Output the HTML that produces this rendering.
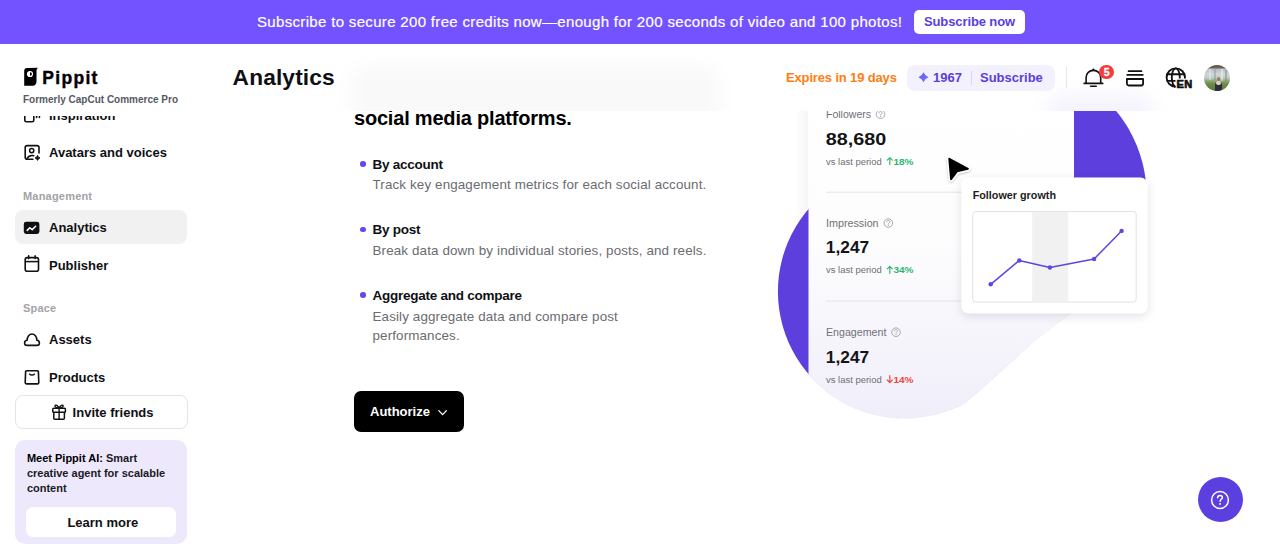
<!DOCTYPE html>
<html lang="en">
<head>
<meta charset="utf-8">
<title>Pippit - Analytics</title>
<style>
*{box-sizing:border-box;margin:0;padding:0}
html,body{width:1280px;height:557px;overflow:hidden;background:#fff}
body{position:relative;font-family:"Liberation Sans",Arial,Helvetica,sans-serif;color:#0f1014;-webkit-font-smoothing:antialiased}
.abs{position:absolute}
.t{position:absolute;white-space:nowrap;line-height:1}
/* banner */
#banner{position:absolute;left:0;top:0;width:1280px;height:44px;background:#7352ff}
#banner .msg{position:absolute;left:257px;top:14.4px;font-size:15px;color:#fff;letter-spacing:0.33px;-webkit-text-stroke:0.2px #fff;white-space:nowrap;line-height:16px}
#banner .btn{position:absolute;left:914px;top:9.5px;width:111px;height:24.5px;background:#fff;border-radius:5px;color:#5b3de0;font-weight:bold;font-size:13px;line-height:24.5px;text-align:center;letter-spacing:-0.1px}
/* sidebar */
.nav{position:absolute;left:49px;font-size:13px;font-weight:bold;color:#0f1014;white-space:nowrap;line-height:13px}
.sec{position:absolute;left:23px;font-size:11px;font-weight:bold;color:#a3a3a8;letter-spacing:0.2px;white-space:nowrap;line-height:11px}
.ico{position:absolute}
/* main */
.desc{position:absolute;left:372.5px;font-size:13.4px;color:#6b6b70;letter-spacing:0.13px;white-space:nowrap;line-height:20px}
.btitle{position:absolute;left:372.5px;font-size:13.5px;letter-spacing:-0.25px;font-weight:bold;color:#0f1014;white-space:nowrap;line-height:13px}
.dot{position:absolute;left:360px;width:5.5px;height:5.5px;border-radius:50%;background:#6548f0}
</style>
</head>
<body>

<!-- ===== Banner ===== -->
<div id="banner">
  <div class="msg">Subscribe to secure 200 free credits now—enough for 200 seconds of video and 100 photos!</div>
  <div class="btn">Subscribe now</div>
</div>

<!-- ===== Main content (scrolled) ===== -->
<div class="t" style="left:354px;top:108.3px;font-size:20px;font-weight:bold;color:#000;letter-spacing:-0.2px">social media platforms.</div>

<div class="dot" style="top:161px"></div>
<div class="btitle" style="top:157.6px">By account</div>
<div class="desc" style="top:175.2px">Track key engagement metrics for each social account.</div>

<div class="dot" style="top:226.5px"></div>
<div class="btitle" style="top:223.1px">By post</div>
<div class="desc" style="top:241.2px">Break data down by individual stories, posts, and reels.</div>

<div class="dot" style="top:292px"></div>
<div class="btitle" style="top:288.6px">Aggregate and compare</div>
<div class="desc" style="top:306.7px">Easily aggregate data and compare post</div>
<div class="desc" style="top:326.2px">performances.</div>

<div class="abs" style="left:353.5px;top:391px;width:110.5px;height:41px;background:#000;border-radius:7px"></div>
<div class="t" style="left:370px;top:405px;font-size:13px;font-weight:bold;color:#fff">Authorize</div>
<svg class="abs" style="left:436px;top:408px" width="12" height="10" viewBox="0 0 12 10"><path d="M2.8 2.6 L6.6 6.6 L10.4 2.6" fill="none" stroke="#fff" stroke-width="1.3" stroke-linecap="round" stroke-linejoin="round"/></svg>

<!-- ILLUSTRATION -->
<svg class="abs" style="left:760px;top:100px;overflow:visible" width="400" height="330" viewBox="760 100 400 330">
  <defs>
    <path id="blobp" d="M1076.7 78.9 C1088.8 82.7 1087.4 85.0 1092.3 88.6 C1097.2 92.2 1102.0 96.2 1106.3 100.4 C1110.7 104.6 1114.9 109.2 1118.6 114.0 C1122.4 118.8 1125.8 124.0 1128.9 129.2 C1131.9 134.5 1134.6 140.1 1136.9 145.7 C1139.2 151.4 1141.1 157.3 1142.6 163.2 C1144.1 169.1 1145.1 175.2 1145.8 181.3 C1146.4 187.3 1146.6 193.5 1146.4 199.6 C1146.2 205.7 1145.6 211.8 1144.5 217.8 C1143.4 223.8 1141.9 229.8 1140.1 235.6 C1138.2 241.4 1135.9 247.2 1133.2 252.6 C1130.5 258.1 1127.4 263.5 1124.0 268.5 C1120.6 273.6 1116.8 278.5 1112.7 283.0 C1108.6 287.5 1104.2 291.8 1099.5 295.7 C1094.9 299.7 1089.9 303.3 1084.7 306.5 C1079.5 309.8 1076.7 309.5 1068.5 315.1 C1060.3 320.8 1045.1 332.3 1035.4 340.3 C1025.7 348.3 1018.4 355.5 1010.0 363.0 C1001.6 370.5 992.7 378.8 985.0 385.5 C977.3 392.2 970.0 399.1 963.8 403.2 C957.6 407.3 953.4 408.3 948.0 410.2 C942.6 412.2 937.0 413.9 931.4 415.1 C925.8 416.3 920.1 417.2 914.3 417.6 C908.6 418.1 902.8 418.1 897.0 417.8 C891.3 417.5 885.5 416.7 879.9 415.6 C874.3 414.5 868.6 413.0 863.2 411.1 C857.8 409.2 852.4 407.0 847.3 404.4 C842.2 401.8 837.2 398.8 832.4 395.5 C827.7 392.3 823.2 388.6 818.9 384.8 C814.7 380.9 810.7 376.7 807.0 372.2 C803.4 367.8 800.0 363.1 796.9 358.2 C793.9 353.3 791.2 348.2 788.8 343.0 C786.5 337.7 784.5 332.2 782.9 326.7 C781.3 321.2 780.1 315.5 779.2 309.8 C778.4 304.1 778.0 298.4 777.9 292.6 C777.9 286.9 778.2 281.1 778.9 275.4 C779.7 269.7 780.8 264.0 782.3 258.4 C783.8 252.9 785.7 247.4 788.0 242.1 C790.2 236.8 792.8 231.6 795.8 226.7 C798.7 221.7 802.0 217.0 805.6 212.5 C809.2 208.0 813.2 203.7 817.3 199.7 C821.5 195.8 826.0 192.1 830.6 188.7 C835.3 185.4 840.3 182.3 845.3 179.6 C850.4 177.0 852.0 179.2 861.1 172.6 C870.2 166.0 883.5 153.8 900.0 140.0 C916.5 126.2 940.0 102.3 960.0 90.0 C980.0 77.7 1000.5 67.9 1020.0 66.0 C1039.5 64.1 1064.7 75.1 1076.7 78.9Z"/>
    <mask id="cardmask" maskUnits="userSpaceOnUse" x="700" y="0" width="500" height="500">
      <use href="#blobp" fill="#fff" stroke="#fff" stroke-width="1.2"/>
      <rect x="800" y="90" width="280" height="210" fill="#fff"/>
    </mask>
    <linearGradient id="cardg" x1="0" y1="0" x2="0" y2="1">
      <stop offset="0" stop-color="#ffffff"/>
      <stop offset="0.45" stop-color="#fdfdfe"/>
      <stop offset="1" stop-color="#efedf9"/>
    </linearGradient>
    <filter id="pshadow" x="-20%" y="-20%" width="140%" height="150%">
      <feDropShadow dx="0" dy="3" stdDeviation="5" flood-color="#1a1a40" flood-opacity="0.12"/>
    </filter>
    <filter id="cshadow" x="-30%" y="-30%" width="160%" height="160%">
      <feDropShadow dx="0" dy="1" stdDeviation="1.2" flood-color="#000" flood-opacity="0.25"/>
    </filter>
  </defs>
  <linearGradient id="lsh" x1="0" y1="0" x2="1" y2="0"><stop offset="0" stop-color="#707090" stop-opacity="0"/><stop offset="1" stop-color="#707090" stop-opacity="0.07"/></linearGradient>
  <rect x="795" y="100" width="13.5" height="200" fill="url(#lsh)"/>
  <use href="#blobp" fill="#5c3fdc"/>
  <g mask="url(#cardmask)">
    <rect x="808.5" y="90" width="265.5" height="340" fill="url(#cardg)"/>
  </g>
  <!-- stats text -->
  <g font-family="Liberation Sans, Arial, sans-serif">
    <text x="826" y="118.3" font-size="10.6" fill="#707076" textLength="45" lengthAdjust="spacingAndGlyphs">Followers</text>
    <circle cx="880.5" cy="114.2" r="4.3" fill="none" stroke="#a0a0a6" stroke-width="0.9"/>
    <path d="M879.0 113.0 C879.0 111.9 879.7 111.5 880.5 111.5 C881.4 111.5 882.0 112.1 882.0 112.9 C882.0 114.0 880.5 114.1 880.5 115.2" fill="none" stroke="#a0a0a6" stroke-width="0.9" stroke-linecap="round"/>
    <circle cx="880.5" cy="116.6" r="0.55" fill="#a0a0a6"/>
    <text x="825.8" y="144.5" font-size="16.8" font-weight="bold" fill="#141417" textLength="60.5" lengthAdjust="spacingAndGlyphs">88,680</text>
    <text x="826" y="164.5" font-size="9.6" fill="#6e6e74" textLength="55.7" lengthAdjust="spacingAndGlyphs">vs last period</text>
    <path d="M889.8 164.5 V157.6 M887.3 160.1 L889.8 157.6 L892.3 160.1" fill="none" stroke="#2bb673" stroke-width="1.15" stroke-linecap="round" stroke-linejoin="round"/>
    <text x="893.4" y="164.5" font-size="9.6" font-weight="bold" fill="#2bb673" textLength="20" lengthAdjust="spacingAndGlyphs">18%</text>
    <rect x="826" y="191.7" width="140" height="1" fill="#e3e3e6"/>
    <text x="826" y="227.1" font-size="10.6" fill="#707076" textLength="52.6" lengthAdjust="spacingAndGlyphs">Impression</text>
    <circle cx="888.3" cy="223.0" r="4.3" fill="none" stroke="#a0a0a6" stroke-width="0.9"/>
    <path d="M886.8 221.8 C886.8 220.7 887.5 220.3 888.3 220.3 C889.2 220.3 889.8 220.9 889.8 221.7 C889.8 222.8 888.3 222.9 888.3 224.0" fill="none" stroke="#a0a0a6" stroke-width="0.9" stroke-linecap="round"/>
    <circle cx="888.3" cy="225.4" r="0.55" fill="#a0a0a6"/>
    <text x="825.8" y="253.3" font-size="16.8" font-weight="bold" fill="#141417" textLength="43.4" lengthAdjust="spacingAndGlyphs">1,247</text>
    <text x="826" y="273.3" font-size="9.6" fill="#6e6e74" textLength="55.7" lengthAdjust="spacingAndGlyphs">vs last period</text>
    <path d="M889.8 273.3 V266.4 M887.3 268.9 L889.8 266.4 L892.3 268.9" fill="none" stroke="#2bb673" stroke-width="1.15" stroke-linecap="round" stroke-linejoin="round"/>
    <text x="893.4" y="273.3" font-size="9.6" font-weight="bold" fill="#2bb673" textLength="20" lengthAdjust="spacingAndGlyphs">34%</text>
    <rect x="826" y="300.5" width="140" height="1" fill="#e3e3e6"/>
    <text x="826" y="336.3" font-size="10.6" fill="#707076" textLength="60.4" lengthAdjust="spacingAndGlyphs">Engagement</text>
    <circle cx="896" cy="332.2" r="4.3" fill="none" stroke="#a0a0a6" stroke-width="0.9"/>
    <path d="M894.5 331.0 C894.5 329.9 895.2 329.5 896.0 329.5 C896.9 329.5 897.5 330.1 897.5 330.9 C897.5 332.0 896.0 332.1 896.0 333.2" fill="none" stroke="#a0a0a6" stroke-width="0.9" stroke-linecap="round"/>
    <circle cx="896" cy="334.6" r="0.55" fill="#a0a0a6"/>
    <text x="825.8" y="362.5" font-size="16.8" font-weight="bold" fill="#141417" textLength="43.4" lengthAdjust="spacingAndGlyphs">1,247</text>
    <text x="826" y="382.5" font-size="9.6" fill="#6e6e74" textLength="55.7" lengthAdjust="spacingAndGlyphs">vs last period</text>
    <path d="M889.8 375.6 V382.5 M887.3 380.0 L889.8 382.5 L892.3 380.0" fill="none" stroke="#ef4444" stroke-width="1.15" stroke-linecap="round" stroke-linejoin="round"/>
    <text x="893.4" y="382.5" font-size="9.6" font-weight="bold" fill="#ef4444" textLength="20" lengthAdjust="spacingAndGlyphs">14%</text>
  </g>
  <!-- popup -->
  <rect x="961.4" y="177.5" width="186" height="135.8" rx="7" fill="#fff" filter="url(#pshadow)"/>
  <text x="972.7" y="198.8" font-family="Liberation Sans, Arial, sans-serif" font-size="11" font-weight="bold" fill="#1d1d22" textLength="83.3" lengthAdjust="spacingAndGlyphs">Follower growth</text>
  <rect x="972.7" y="211.6" width="163.5" height="90.4" rx="3" fill="#fff" stroke="#e2e2e5" stroke-width="1"/>
  <rect x="1032.2" y="212.1" width="36" height="89.4" fill="#f1f1f2"/>
  <polyline points="990.7,284.3 1019.3,260.5 1049.9,267.5 1094.1,259 1121.6,230.9" fill="none" stroke="#5d46e2" stroke-width="1.5" stroke-linejoin="round"/>
  <g fill="#5d46e2">
    <circle cx="990.7" cy="284.3" r="2.2"/><circle cx="1019.3" cy="260.5" r="2.2"/><circle cx="1049.9" cy="267.5" r="2.2"/><circle cx="1094.1" cy="259" r="2.2"/><circle cx="1121.6" cy="230.9" r="2.2"/>
  </g>
  <!-- cursor -->
  <g filter="url(#cshadow)">
    <path d="M949.3 158.8 L967.9 168.8 L956.9 171.3 L951.1 179.1 Z" fill="#fff" stroke="#fff" stroke-width="5" stroke-linejoin="round"/>
    <path d="M949.3 158.8 L967.9 168.8 L956.9 171.3 L951.1 179.1 Z" fill="#000" stroke="#000" stroke-width="2" stroke-linejoin="round"/>
  </g>
</svg>

<!-- ===== Header (sticky, blurred) ===== -->
<div id="header" class="abs" style="left:200px;top:44px;width:1080px;height:66.6px;background:#fff;overflow:hidden">
  <div class="abs" style="left:150px;top:22px;width:370px;height:60px;background:rgba(0,0,0,0.022);border-radius:20px;filter:blur(9px)"></div>
  <div class="abs" style="left:845px;top:50px;width:110px;height:40px;background:rgba(92,63,220,0.06);border-radius:20px;filter:blur(8px)"></div>
</div>
<div class="t" style="left:232.6px;top:65.5px;font-size:22.7px;font-weight:bold;color:#0f1014;letter-spacing:0.15px">Analytics</div>

<div class="t" style="left:786px;top:71px;font-size:13px;font-weight:bold;color:#ff7d0f;letter-spacing:-0.15px">Expires in 19 days</div>
<div class="abs" style="left:907px;top:65px;width:148px;height:26px;background:#f3f1fe;border-radius:8px"></div>
<svg class="abs" style="left:918px;top:71.5px" width="11" height="11" viewBox="0 0 11 11"><defs><linearGradient id="sg" x1="0" y1="0" x2="1" y2="1"><stop offset="0" stop-color="#5b55f2"/><stop offset="1" stop-color="#7c7cff"/></linearGradient></defs><path d="M5.5 0.2 Q6.9 3.8 10.5 5.2 Q6.9 6.6 5.5 10.2 Q4.1 6.6 0.5 5.2 Q4.1 3.8 5.5 0.2Z" fill="url(#sg)"/></svg>
<div class="t" style="left:933px;top:71px;font-size:13px;font-weight:bold;color:#5b3fd9">1967</div>
<div class="abs" style="left:970.5px;top:71px;width:1px;height:14px;background:#d9d4f2"></div>
<div class="t" style="left:980px;top:71px;font-size:13px;font-weight:bold;color:#5b3fd9">Subscribe</div>
<div class="abs" style="left:1066px;top:67px;width:1px;height:21px;background:#e6e6e8"></div>

<!-- bell -->
<svg class="abs" style="left:1082px;top:66px" width="24" height="24" viewBox="0 0 24 24">
  <path d="M4.1 17.2 V11.6 C4.1 7.4 7.3 4.4 11.4 4.4 C15.5 4.4 18.7 7.4 18.7 11.6 V17.2" fill="none" stroke="#111" stroke-width="1.6"/>
  <path d="M2.2 17.4 H20.7" stroke="#111" stroke-width="1.7" stroke-linecap="round"/>
  <path d="M8.6 20.3 H14.2" stroke="#111" stroke-width="1.6" stroke-linecap="round"/>
  <circle cx="11.4" cy="3.7" r="1.1" fill="#111"/>
</svg>
<div class="abs" style="left:1099.4px;top:64.6px;width:14.8px;height:14.8px;border-radius:50%;background:#f43c3c;color:#fff;font-size:10.5px;font-weight:bold;line-height:14.8px;text-align:center;-webkit-text-stroke:0.3px #fff">5</div>
<!-- stack icon -->
<svg class="abs" style="left:1124px;top:68px" width="22" height="20" viewBox="0 0 22 20">
  <path d="M4.6 3.2 H17.4" stroke="#111" stroke-width="1.8" stroke-linecap="round"/>
  <path d="M3.3 6.9 H18.7" stroke="#111" stroke-width="1.8" stroke-linecap="round"/>
  <path d="M2.9 11 H19.1 V15.6 C19.1 16.7 18.3 17.5 17.2 17.5 H4.8 C3.7 17.5 2.9 16.7 2.9 15.6 Z" fill="none" stroke="#111" stroke-width="1.8" stroke-linejoin="round"/>
</svg>
<!-- globe EN -->
<svg class="abs" style="left:1164px;top:66px" width="30" height="24" viewBox="0 0 30 24">
  <defs><mask id="gm"><rect width="30" height="24" fill="#fff"/><rect x="11.5" y="12.5" width="20" height="12" fill="#000"/></mask></defs>
  <g mask="url(#gm)" fill="none" stroke="#111" stroke-width="1.85">
    <circle cx="11.8" cy="11.5" r="9.2"/>
    <ellipse cx="11.8" cy="11.5" rx="4" ry="9.2"/>
    <path d="M2.6 8.2 H21 M2.6 14.8 H21"/>
  </g>
  <path d="M11.2 21.3 L8.4 17.9" stroke="#111" stroke-width="1.6"/>
</svg>
<div class="t" style="left:1176.6px;top:79.8px;font-size:11px;font-weight:bold;color:#111;line-height:9px;-webkit-text-stroke:0.7px #111;letter-spacing:0.2px">EN</div>
<!-- avatar -->
<div class="abs" style="left:1204px;top:64.7px;width:26px;height:26px;border-radius:50%;overflow:hidden;background:linear-gradient(180deg,#5e5045 0%,#6f6255 10%,#b8c2c8 17%,#cfd6db 35%,#c3cbc9 50%,#94a87a 60%,#6f8c4a 72%,#62803f 88%,#58703a 100%)">
  <div class="abs" style="left:5px;top:4px;width:2px;height:11px;background:rgba(255,255,255,0.35)"></div>
  <div class="abs" style="left:10px;top:4px;width:1.5px;height:11px;background:rgba(120,130,140,0.35)"></div>
  <div class="abs" style="left:17px;top:4px;width:2px;height:12px;background:rgba(255,255,255,0.4)"></div>
  <div class="abs" style="left:21px;top:5px;width:1.5px;height:11px;background:rgba(110,125,110,0.4)"></div>
  <div class="abs" style="left:11px;top:17px;width:7px;height:10px;background:#2e2c3a;border-radius:3px 3px 0 0"></div>
  <div class="abs" style="left:12px;top:16px;width:5px;height:4px;background:#d8d2cc;border-radius:2px"></div>
  <div class="abs" style="left:12.8px;top:12.5px;width:3.6px;height:4px;background:#9a7a62;border-radius:50%"></div>
</div>

<!-- ===== Sidebar ===== -->
<div class="abs" style="left:0;top:115.6px;width:200px;height:442px;overflow:hidden">
 <div class="abs" style="left:0;top:-115.6px;width:200px;height:557px">
  <!-- Inspiration (clipped) -->
  <svg class="ico" style="left:22px;top:104px" width="20" height="20" viewBox="0 0 20 20">
    <rect x="2.8" y="4" width="9" height="13.8" rx="1.6" fill="none" stroke="#111" stroke-width="1.6"/>
    <path d="M14.6 8 V13.5 M17.4 8 V13.5" stroke="#111" stroke-width="1.6" stroke-linecap="round"/>
  </svg>
  <div class="nav" style="top:108.9px">Inspiration</div>
  <!-- Avatars -->
  <svg class="ico" style="left:22px;top:143.4px" width="20" height="20" viewBox="0 0 20 20">
    <path d="M17 9.9 V4.6 C17 3.5 16.1 2.6 15 2.6 H5.2 C4.1 2.6 3.2 3.5 3.2 4.6 V14.2 C3.2 15.3 4.1 16.2 5.2 16.2 H10.9" fill="none" stroke="#111" stroke-width="1.6" stroke-linecap="round"/>
    <circle cx="9.7" cy="7.6" r="2.1" fill="none" stroke="#111" stroke-width="1.5"/>
    <path d="M5.1 15.3 C6.2 13.4 8 12.4 10 12.4 C10.7 12.4 11.3 12.5 11.8 12.7" fill="none" stroke="#111" stroke-width="1.5" stroke-linecap="round"/>
    <path d="M15.5 12.4 Q16 14.4 18 14.9 Q16 15.4 15.5 17.4 Q15 15.4 13 14.9 Q15 14.4 15.5 12.4Z" fill="#111" stroke="#111" stroke-width="0.9" stroke-linejoin="round"/>
  </svg>
  <div class="nav" style="top:145.7px">Avatars and voices</div>

  <div class="sec" style="top:190.9px">Management</div>
  <div class="abs" style="left:15.3px;top:209.7px;width:172px;height:34.8px;background:#f1f1f2;border-radius:8px"></div>
  <svg class="ico" style="left:22px;top:217.5px" width="20" height="20" viewBox="0 0 20 20">
    <rect x="1.8" y="3.7" width="15.6" height="12.3" rx="2.4" fill="#0f1014"/>
    <path d="M5.2 12.4 L7.8 9.8 L10.2 11.6 L13.6 8.2" fill="none" stroke="#fff" stroke-width="1.5" stroke-linecap="round" stroke-linejoin="round"/>
  </svg>
  <div class="nav" style="top:221.3px">Analytics</div>

  <svg class="ico" style="left:22px;top:254px" width="20" height="20" viewBox="0 0 20 20">
    <rect x="3.2" y="3.6" width="13.3" height="13.6" rx="2" fill="none" stroke="#111" stroke-width="1.6"/>
    <path d="M3.2 7.6 H16.5" stroke="#111" stroke-width="1.5"/>
    <path d="M6.6 1.9 V4.6 M13.1 1.9 V4.6" stroke="#111" stroke-width="1.6" stroke-linecap="round"/>
  </svg>
  <div class="nav" style="top:258.5px">Publisher</div>

  <div class="sec" style="top:303.1px">Space</div>

  <svg class="ico" style="left:22px;top:330px" width="20" height="20" viewBox="0 0 20 20">
    <path d="M5.3 15.4 C3.5 15.4 2.6 14.2 2.6 12.9 C2.6 11.4 3.6 10.3 5.2 10.2 C5.1 6.5 7.4 4 10 4 C12.6 4 14.9 6.5 14.8 10.2 C16.4 10.3 17.4 11.4 17.4 12.9 C17.4 14.2 16.5 15.4 14.7 15.4 Z" fill="none" stroke="#111" stroke-width="1.6" stroke-linejoin="round"/>
  </svg>
  <div class="nav" style="top:333.1px">Assets</div>

  <svg class="ico" style="left:22px;top:367px" width="20" height="20" viewBox="0 0 20 20">
    <path d="M4.6 3.8 H15.4 C16 3.8 16.4 4.2 16.4 4.8 L16.8 15.5 C16.8 16.3 16.2 16.9 15.4 16.9 H4.6 C3.8 16.9 3.2 16.3 3.2 15.5 L3.6 4.8 C3.6 4.2 4 3.8 4.6 3.8 Z" fill="none" stroke="#111" stroke-width="1.6" stroke-linejoin="round"/>
    <path d="M7.6 7.2 C8.4 8.4 11.6 8.4 12.4 7.2" fill="none" stroke="#111" stroke-width="1.5" stroke-linecap="round"/>
  </svg>
  <div class="nav" style="top:370.8px">Products</div>

  <div class="abs" style="left:15.2px;top:395.2px;width:172.5px;height:33.7px;border:1px solid #e4e4e6;border-radius:8px;background:#fff"></div>
  <svg class="ico" style="left:50px;top:402px" width="18" height="19" viewBox="0 0 18 19">
    <rect x="2.8" y="6.2" width="12.6" height="4" rx="0.8" fill="none" stroke="#111" stroke-width="1.5"/>
    <path d="M3.8 10.2 V16.3 C3.8 16.9 4.2 17.3 4.8 17.3 H13.4 C14 17.3 14.4 16.9 14.4 16.3 V10.2" fill="none" stroke="#111" stroke-width="1.5"/>
    <path d="M9.1 6.2 V17.3" stroke="#111" stroke-width="1.4"/>
    <path d="M9.1 6.2 C8 3.2 5.6 2.4 5 3.6 C4.5 4.7 6.5 6 9.1 6.2 C11.7 6 13.7 4.7 13.2 3.6 C12.6 2.4 10.2 3.2 9.1 6.2Z" fill="none" stroke="#111" stroke-width="1.3" stroke-linejoin="round"/>
  </svg>
  <div class="nav" style="left:72.6px;top:405.7px">Invite friends</div>

  <div class="abs" style="left:15.2px;top:440.2px;width:172px;height:104.3px;background:#eee8fd;border-radius:10px"></div>
  <div class="t" style="left:26.9px;top:453px;font-size:11px;font-weight:bold;color:#000;line-height:15px;margin-top:-2px"><span>Meet Pippit AI:</span> <span style="color:#1a1a1f">Smart</span><br><span style="color:#1a1a1f">creative agent for scalable</span><br><span style="color:#1a1a1f">content</span></div>
  <div class="abs" style="left:26.1px;top:507.3px;width:150.2px;height:29.9px;background:#fff;border-radius:7px"></div>
  <div class="nav" style="left:67.4px;top:515.9px;color:#111">Learn more</div>
 </div>
</div>
<!-- logo -->
<svg class="abs" style="left:23px;top:67px" width="16" height="20" viewBox="0 0 16 20">
  <path d="M1.2 4 C1.2 2.2 2.2 1 4 1 L15 0.7 C13.9 1.5 13.5 2.5 13.5 4 V14.5 C13.5 17 12 18.7 9.8 18.7 H1.2 Z" fill="#000"/>
  <circle cx="7" cy="7" r="3.1" fill="#fff"/>
  <path d="M7 5.3 C8.3 5.3 8.9 6.2 8.9 7.1 C8.9 8 8.2 8.8 7 8.8 Z" fill="#000"/>
</svg>
<div class="t" style="left:42.3px;top:70.1px;font-size:17.5px;font-weight:bold;color:#000;letter-spacing:1.3px;-webkit-text-stroke:0.4px #000">Pippit</div>
<div class="t" style="left:23px;top:94.5px;font-size:10px;font-weight:bold;color:#555a62">Formerly CapCut Commerce Pro</div>

<!-- help -->
<div class="abs" style="left:1197.9px;top:477.2px;width:45px;height:45px;border-radius:50%;background:#5b3fdf"></div>
<svg class="abs" style="left:1208.4px;top:487.7px" width="24" height="24" viewBox="0 0 24 24">
  <circle cx="12" cy="12" r="8.4" fill="none" stroke="#fff" stroke-width="1.5"/>
  <path d="M9.6 9.8 C9.6 8.4 10.7 7.5 12 7.5 C13.4 7.5 14.4 8.4 14.4 9.6 C14.4 11.2 12.1 11.4 12.1 13.2" fill="none" stroke="#fff" stroke-width="1.5" stroke-linecap="round"/>
  <circle cx="12.1" cy="15.9" r="0.95" fill="#fff"/>
</svg>
</body>
</html>
